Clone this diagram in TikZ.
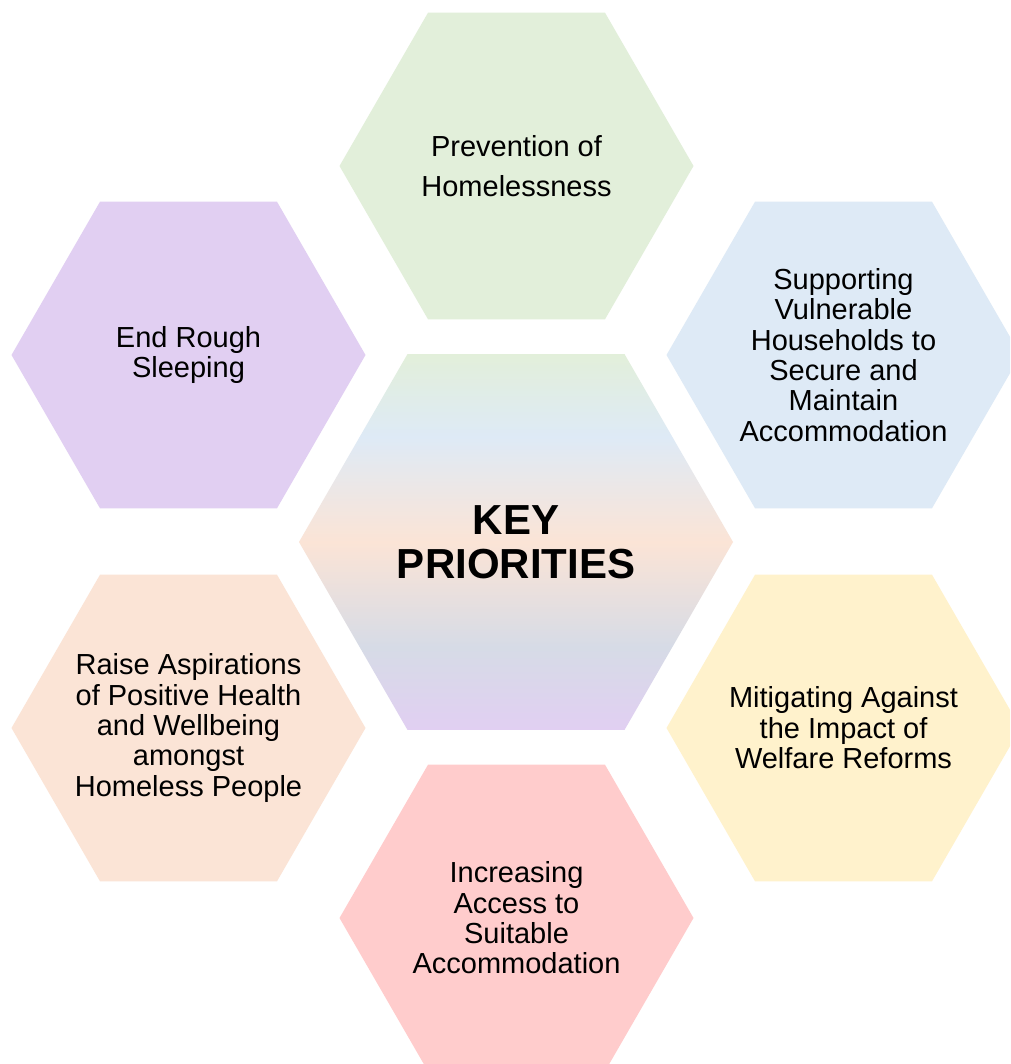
\documentclass[tikz,border=0pt]{standalone}
\usepackage{fontspec}
\setmainfont{Liberation Sans}
\usetikzlibrary{shapes.geometric}
\definecolor{cgreen}{HTML}{E2EFDA}
\definecolor{cblue}{HTML}{DEEAF6}
\definecolor{cpurple}{HTML}{E1CFF2}
\definecolor{cpeach}{HTML}{FBE4D6}
\definecolor{cyellow}{HTML}{FFF2CC}
\definecolor{cpink}{HTML}{FFCCCC}
\definecolor{cgray}{HTML}{D6DBE6}
\pgfdeclareverticalshading{keyshade}{100bp}{color(0bp)=(cpurple); color(25bp)=(cpurple); color(36bp)=(cgray); color(50bp)=(cpeach); color(64bp)=(cblue); color(75bp)=(cgreen); color(100bp)=(cgreen)}
\tikzset{
  hexa/.style={regular polygon, regular polygon sides=6, minimum size=354pt, inner sep=0pt, outer sep=0pt, draw=none},
  bighexa/.style={regular polygon, regular polygon sides=6, minimum size=434pt, inner sep=0pt, outer sep=0pt, draw=none, shading=keyshade},
  lbl/.style={align=center, text=black, inner sep=0pt, font=\fontsize{29}{30.4}\selectfont},
  keylbl/.style={align=center, text=black, inner sep=0pt, font=\fontsize{42}{44}\selectfont\bfseries}
}
\begin{document}
\begin{tikzpicture}[x=1pt,y=-1pt]
\clip (0,0) rectangle (1010,1064);
\fill[white] (0,0) rectangle (1010,1064);
\node[hexa, fill=cgreen] (hp) at (516.5,166) {};
\node[hexa, fill=cblue] (hs) at (843.5,355) {};
\node[hexa, fill=cyellow] (hm) at (843.5,728) {};
\node[hexa, fill=cpink] (hi) at (516.5,918) {};
\node[hexa, fill=cpeach] (hr) at (188.5,728) {};
\node[hexa, fill=cpurple] (he) at (188.5,355) {};
\node[bighexa] (hk) at (516,542) {};
\node[lbl] (tp) at (hp) {Prevention of\\[10pt]Homelessness};
\node[lbl] (ts) at (hs) {Supporting\\Vulnerable\\Households to\\Secure and\\Maintain\\Accommodation};
\node[lbl] (tm) at (hm) {Mitigating Against\\the Impact of\\Welfare Reforms};
\node[lbl] (ti) at (hi) {Increasing\\Access to\\Suitable\\Accommodation};
\node[lbl] (tr) at (hr) {Raise Aspirations\\of Positive Health\\and Wellbeing\\amongst\\Homeless People};
\node[lbl] (te) at (he) {End Rough\\Sleeping};
\node[keylbl] (tk) at (hk) {KEY\\PRIORITIES};
\end{tikzpicture}
\end{document}
